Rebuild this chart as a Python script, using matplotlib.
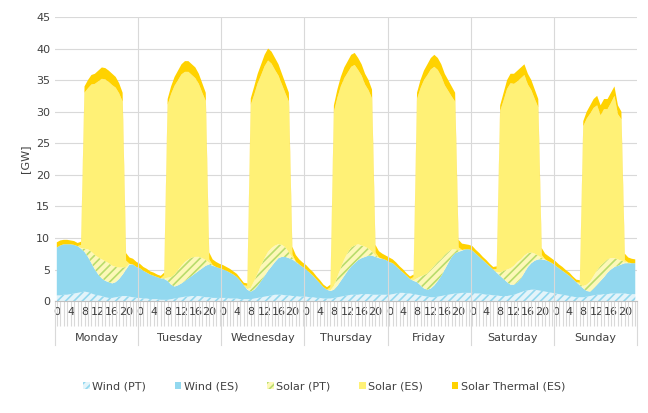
import numpy as np
import matplotlib
matplotlib.use("Agg")
import matplotlib.pyplot as plt
from matplotlib.patches import Patch

days = ["Monday", "Tuesday", "Wednesday", "Thursday", "Friday", "Saturday", "Sunday"]

wind_pt = [
    [0.9, 0.9, 1.0, 1.0, 1.1, 1.2, 1.3, 1.4, 1.5, 1.4, 1.2, 1.0, 0.9, 0.8, 0.6, 0.5, 0.5, 0.6, 0.7, 0.8, 0.8, 0.7, 0.6, 0.5],
    [0.5, 0.4, 0.4, 0.3, 0.3, 0.3, 0.2, 0.2, 0.2, 0.3, 0.4, 0.5, 0.6, 0.7, 0.7, 0.8, 0.8, 0.8, 0.7, 0.6, 0.6, 0.5, 0.5, 0.5],
    [0.5, 0.5, 0.4, 0.4, 0.4, 0.3, 0.3, 0.3, 0.3, 0.4, 0.5, 0.6, 0.7, 0.8, 0.9, 1.0, 1.0, 1.0, 0.9, 0.9, 0.8, 0.8, 0.7, 0.7],
    [0.7, 0.6, 0.6, 0.5, 0.5, 0.4, 0.4, 0.4, 0.5, 0.6, 0.7, 0.8, 0.9, 1.0, 1.0, 1.0, 1.1, 1.1, 1.1, 1.0, 1.0, 1.0, 1.0, 1.0],
    [1.0, 1.1, 1.2, 1.3, 1.3, 1.2, 1.2, 1.1, 1.0, 0.9, 0.8, 0.7, 0.6, 0.6, 0.7, 0.8, 0.9, 1.0, 1.1, 1.2, 1.2, 1.3, 1.3, 1.3],
    [1.3, 1.2, 1.2, 1.1, 1.0, 1.0, 0.9, 0.9, 0.8, 0.8, 0.8, 0.9, 1.0, 1.2, 1.4, 1.6, 1.7, 1.8, 1.8, 1.7, 1.6, 1.5, 1.4, 1.3],
    [1.2, 1.1, 1.0, 0.9, 0.8, 0.7, 0.6, 0.6, 0.6, 0.7, 0.8, 0.9, 1.0, 1.0, 1.1, 1.1, 1.2, 1.2, 1.2, 1.2, 1.2, 1.1, 1.1, 1.1],
]

wind_total = [
    [8.5, 8.8, 9.0, 9.0, 9.0, 8.9, 8.7, 8.3, 7.8, 7.0, 6.0, 5.0, 4.2, 3.6, 3.2, 3.0, 2.8, 3.0, 3.5, 4.2, 5.0, 5.8, 5.8, 5.4],
    [5.2, 4.8, 4.5, 4.2, 4.0, 3.8, 3.6, 3.5, 3.2, 2.6, 2.3, 2.5, 2.8, 3.2, 3.6, 4.0, 4.4, 4.8, 5.2, 5.6, 5.8, 5.6, 5.4, 5.2],
    [5.0, 4.8, 4.5, 4.2, 3.8, 3.2, 2.5, 1.8, 1.5, 1.8, 2.4, 3.2, 4.0, 4.8, 5.5, 6.2, 6.8, 7.0, 7.0, 6.8, 6.6, 6.2, 5.8, 5.4],
    [5.0, 4.5, 4.0, 3.4, 2.8, 2.2, 1.8, 1.6, 1.8, 2.4, 3.2, 4.0, 4.8, 5.5, 6.0, 6.5, 6.8, 7.0, 7.2, 7.2, 7.0, 6.8, 6.7, 6.5],
    [6.2, 6.0, 5.5, 5.0, 4.5, 4.0, 3.5, 3.2, 3.0, 2.5, 2.0, 1.8, 2.0, 2.5, 3.2, 4.0, 5.0, 6.0, 7.0, 7.6, 7.8, 8.0, 8.2, 8.2],
    [8.0, 7.5, 7.0, 6.5, 6.0, 5.5, 5.0, 4.5, 4.0, 3.5, 3.0, 2.6, 2.6, 3.0, 3.6, 4.5, 5.4, 6.0, 6.4, 6.6, 6.6, 6.5, 6.3, 6.0],
    [5.6, 5.2, 4.8, 4.4, 4.0, 3.5, 3.0, 2.5, 2.0, 1.6, 1.5, 2.0, 2.6, 3.2, 3.8, 4.5, 5.0, 5.4, 5.6, 5.8, 6.0, 6.0, 6.0, 6.0],
]

solar_pt = [
    [0, 0, 0, 0, 0, 0, 0, 0.1, 0.5, 1.2, 1.8, 2.3, 2.7, 3.0, 3.1, 3.0, 2.8, 2.4, 1.8, 1.1, 0.4, 0.1, 0, 0],
    [0, 0, 0, 0, 0, 0, 0, 0.1, 0.5, 1.2, 1.9, 2.4, 2.8, 3.0, 3.0, 2.9, 2.6, 2.2, 1.6, 0.9, 0.3, 0.1, 0, 0],
    [0, 0, 0, 0, 0, 0, 0, 0.1, 0.6, 1.4, 2.0, 2.5, 2.8, 3.0, 2.9, 2.6, 2.2, 1.9, 1.5, 0.9, 0.3, 0.1, 0, 0],
    [0, 0, 0, 0, 0, 0, 0, 0.1, 0.6, 1.4, 2.1, 2.6, 2.9, 3.0, 2.8, 2.5, 2.0, 1.6, 1.1, 0.6, 0.2, 0.1, 0, 0],
    [0, 0, 0, 0, 0, 0, 0, 0.1, 0.6, 1.4, 2.1, 2.6, 3.0, 3.1, 3.0, 2.7, 2.3, 1.8, 1.2, 0.6, 0.2, 0.1, 0, 0],
    [0, 0, 0, 0, 0, 0, 0, 0.1, 0.5, 1.3, 2.0, 2.6, 3.0, 3.2, 3.0, 2.7, 2.2, 1.7, 1.1, 0.6, 0.2, 0.1, 0, 0],
    [0, 0, 0, 0, 0, 0, 0, 0.1, 0.4, 1.0, 1.6, 2.0, 2.3, 2.4, 2.3, 2.1, 1.8, 1.4, 1.0, 0.6, 0.2, 0.1, 0, 0],
]

solar_es = [
    [0, 0, 0, 0, 0, 0, 0, 0.5, 24.7, 25.5, 26.5, 27.1, 27.9, 28.6, 28.8, 28.7, 28.6, 28.4, 27.6, 26.3, 1.0, 0, 0, 0],
    [0, 0, 0, 0, 0, 0, 0, 0.5, 27.4, 29.0, 29.9, 30.1, 30.3, 30.1, 29.7, 28.9, 28.3, 27.4, 26.2, 25.2, 0.5, 0, 0, 0],
    [0, 0, 0, 0, 0, 0, 0, 0.5, 29.0, 29.5, 30.1, 30.1, 30.4, 30.3, 29.2, 27.8, 26.7, 25.4, 24.4, 23.9, 0.5, 0, 0, 0],
    [0, 0, 0, 0, 0, 0, 0, 0.5, 27.6, 28.4, 28.7, 28.7, 28.5, 28.6, 28.6, 27.6, 26.9, 25.7, 25.1, 24.3, 0.5, 0, 0, 0],
    [0, 0, 0, 0, 0, 0, 0, 0.5, 28.4, 29.8, 30.9, 31.4, 31.7, 31.5, 30.4, 28.9, 26.9, 25.5, 24.2, 23.4, 0.5, 0, 0, 0],
    [0, 0, 0, 0, 0, 0, 0, 0.5, 25.6, 27.0, 28.6, 29.3, 28.8, 28.6, 28.7, 28.6, 26.7, 25.7, 24.5, 23.5, 0.5, 0, 0, 0],
    [0, 0, 0, 0, 0, 0, 0, 0.3, 25.3, 26.3, 26.6, 26.6, 26.1, 23.8, 24.3, 23.8, 24.6, 25.7, 23.0, 22.4, 0.3, 0, 0, 0],
]

thermal = [
    [0.8, 0.8, 0.7, 0.7, 0.6, 0.6, 0.5, 0.5, 1.0, 1.3, 1.5, 1.6, 1.7, 1.8, 1.8, 1.8, 1.8, 1.7, 1.6, 1.4, 1.2, 1.0, 0.9, 0.8],
    [0.7, 0.6, 0.6, 0.5, 0.5, 0.4, 0.4, 0.4, 0.9, 1.2, 1.4, 1.5, 1.6, 1.7, 1.7, 1.7, 1.7, 1.6, 1.5, 1.3, 1.1, 0.9, 0.8, 0.7],
    [0.7, 0.6, 0.6, 0.5, 0.5, 0.4, 0.4, 0.4, 1.0, 1.3, 1.5, 1.7, 1.8, 1.9, 1.9, 1.9, 1.8, 1.7, 1.6, 1.4, 1.2, 1.0, 0.8, 0.7],
    [0.7, 0.6, 0.6, 0.5, 0.5, 0.4, 0.4, 0.4, 1.0, 1.3, 1.5, 1.7, 1.8, 1.9, 1.9, 1.9, 1.8, 1.7, 1.6, 1.4, 1.2, 1.0, 0.8, 0.7],
    [0.7, 0.6, 0.6, 0.5, 0.5, 0.4, 0.4, 0.4, 1.0, 1.3, 1.5, 1.7, 1.8, 1.9, 1.9, 1.9, 1.8, 1.7, 1.6, 1.4, 1.2, 1.0, 0.8, 0.7],
    [0.7, 0.6, 0.6, 0.5, 0.5, 0.4, 0.4, 0.4, 0.9, 1.2, 1.4, 1.5, 1.6, 1.7, 1.7, 1.7, 1.7, 1.6, 1.5, 1.3, 1.1, 0.9, 0.8, 0.7],
    [0.7, 0.6, 0.6, 0.5, 0.5, 0.4, 0.4, 0.4, 0.8, 1.1, 1.3, 1.4, 1.5, 1.6, 1.6, 1.6, 1.6, 1.5, 1.4, 1.2, 1.0, 0.8, 0.7, 0.6],
]

w_pt = np.concatenate(wind_pt)
w_es = np.concatenate(wind_total) - w_pt
s_pt = np.concatenate(solar_pt)
s_es = np.concatenate(solar_es)
s_th = np.concatenate(thermal)
x = np.arange(len(w_pt))

c_wind = "#92d8ef"
c_solar = "#fff176"
c_thermal = "#ffd200"
c_spt = "#b9dc6c"
txt = "#404040"

plt.rcParams["hatch.linewidth"] = 1.2
fig = plt.figure(figsize=(6.48, 4.13), dpi=100)
ax = fig.add_axes([0.085, 0.271, 0.898, 0.688])

b0 = np.zeros_like(w_pt)
b1 = b0 + w_pt
b2 = b1 + w_es
b3 = b2 + s_pt
b4 = b3 + s_es
b5 = b4 + s_th

ax.fill_between(x, b0, b1, facecolor="#e3f4fa", edgecolor=c_wind, hatch="////", linewidth=0)
ax.fill_between(x, b1, b2, facecolor=c_wind, linewidth=0)
ax.fill_between(x, b2, b3, facecolor="#fdf8b8", edgecolor=c_spt, hatch="////", linewidth=0)
ax.fill_between(x, b3, b4, facecolor=c_solar, linewidth=0)
ax.fill_between(x, b4, b5, facecolor=c_thermal, linewidth=0)

ax.set_xlim(-0.5, len(x) - 0.5)
ax.set_ylim(0, 45)
ax.set_yticks(range(0, 46, 5))
ax.tick_params(axis="y", length=0, labelsize=8, colors=txt)
ax.set_ylabel("[GW]", fontsize=8, color=txt)
ax.yaxis.grid(True, color="#d9d9d9", linewidth=0.8)
for d in range(1, 7):
    ax.axvline(24 * d - 0.5, color="#d9d9d9", linewidth=0.8)
ax.set_axisbelow(True)
for s in ["top", "right", "left"]:
    ax.spines[s].set_visible(False)
ax.spines["bottom"].set_color("#bfbfbf")

ax.set_xticks(x)
ax.set_xticklabels([str(h % 24) if h % 4 == 0 else "" for h in x], fontsize=8, color=txt)
ax.tick_params(axis="x", length=18, color="#d9d9d9", pad=-14)

# day labels below the hours
sep = ax.get_xaxis_transform()
for d, name in enumerate(days):
    ax.text(24 * d + 11.5, -0.13, name, transform=sep, ha="center", va="center",
            fontsize=8, color=txt)
for d in range(8):
    ax.plot([24 * d - 0.5] * 2, [0, -0.155], transform=sep, color="#d9d9d9",
            linewidth=0.8, clip_on=False)

handles = [
    Patch(facecolor="#e3f4fa", edgecolor=c_wind, hatch="////", linewidth=0, label="Wind (PT)"),
    Patch(facecolor=c_wind, label="Wind (ES)"),
    Patch(facecolor="#fdf8b8", edgecolor=c_spt, hatch="////", linewidth=0, label="Solar (PT)"),
    Patch(facecolor=c_solar, label="Solar (ES)"),
    Patch(facecolor=c_thermal, label="Solar Thermal (ES)"),
]
fig.legend(handles=handles, loc="center", bbox_to_anchor=(0.5, 0.065), ncol=5, frameon=False,
           fontsize=8, handlelength=0.6, handleheight=0.6, columnspacing=2.6,
           handletextpad=0.2, labelcolor=txt)

fig.savefig("out.png", dpi=100)
